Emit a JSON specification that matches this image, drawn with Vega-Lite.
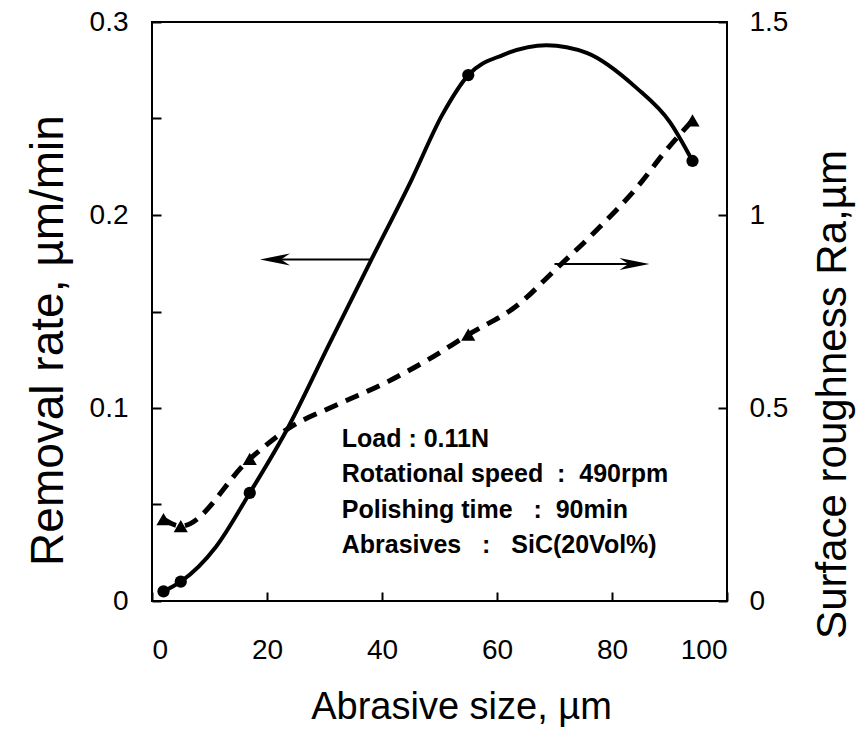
{
  "$schema": "https://vega.github.io/schema/vega-lite/v6.json",
  "width": 575,
  "height": 579,
  "autosize": {"type": "none"},
  "padding": {"left": 152, "top": 22, "right": 129, "bottom": 128},
  "background": "white",
  "config": {
    "view": {"stroke": "black", "strokeWidth": 2},
    "axis": {
      "domain": false,
      "grid": false,
      "ticks": true,
      "tickColor": "black",
      "tickWidth": 2,
      "tickSize": -9,
      "labelColor": "black",
      "labelFont": "Liberation Sans",
      "labelFontSize": 28,
      "titleColor": "black",
      "titleFont": "Liberation Sans",
      "titleFontSize": 38,
      "titleFontWeight": "normal"
    }
  },
  "datasets": {
    "rr_curve": [
      {"size": 2, "rate": 0.005},
      {"size": 5, "rate": 0.010},
      {"size": 11.1, "rate": 0.028},
      {"size": 17, "rate": 0.056},
      {"size": 23.5, "rate": 0.089},
      {"size": 30.8, "rate": 0.133},
      {"size": 38, "rate": 0.176},
      {"size": 45.1, "rate": 0.218},
      {"size": 50.5, "rate": 0.252},
      {"size": 55, "rate": 0.2725},
      {"size": 61.1, "rate": 0.283},
      {"size": 68.6, "rate": 0.288},
      {"size": 75.6, "rate": 0.284},
      {"size": 84.2, "rate": 0.266},
      {"size": 90.1, "rate": 0.248},
      {"size": 94, "rate": 0.228}
    ],
    "rr_points": [
      {"size": 2, "rate": 0.005},
      {"size": 5, "rate": 0.010},
      {"size": 17, "rate": 0.056},
      {"size": 55, "rate": 0.2725},
      {"size": 94, "rate": 0.228}
    ],
    "ra_curve": [
      {"size": 2, "ra": 0.212},
      {"size": 5, "ra": 0.194},
      {"size": 17, "ra": 0.368},
      {"size": 23.6, "ra": 0.446},
      {"size": 32.3, "ra": 0.509},
      {"size": 41.1, "ra": 0.569},
      {"size": 48.1, "ra": 0.626},
      {"size": 55, "ra": 0.69},
      {"size": 63.8, "ra": 0.769},
      {"size": 69.9, "ra": 0.855},
      {"size": 77, "ra": 0.956},
      {"size": 85.1, "ra": 1.085},
      {"size": 88.9, "ra": 1.158},
      {"size": 94, "ra": 1.245}
    ],
    "ra_points": [
      {"size": 2, "ra": 0.212},
      {"size": 5, "ra": 0.194},
      {"size": 17, "ra": 0.368},
      {"size": 55, "ra": 0.69},
      {"size": 94, "ra": 1.245}
    ],
    "notes": [
      {"size": 33, "rate": 0.0798, "label": "Load : 0.11N"},
      {"size": 33, "rate": 0.0617, "label": "Rotational speed\u00a0 :\u00a0 490rpm"},
      {"size": 33, "rate": 0.0430, "label": "Polishing time\u00a0\u00a0 :\u00a0 90min"},
      {"size": 33, "rate": 0.0249, "label": "Abrasives\u00a0\u00a0 :\u00a0\u00a0 SiC(20Vol%)"}
    ]
  },
  "encoding": {
    "x": {
      "field": "size",
      "type": "quantitative",
      "scale": {"domain": [0, 100], "nice": false},
      "axis": {
        "values": [0, 20, 40, 60, 80, 100],
        "title": "Abrasive size, µm",
        "labelPadding": 44,
        "titleX": 309,
        "titleY": 117,
        "titleBaseline": "alphabetic",
        "titleAlign": "center"
      }
    }
  },
  "layer": [
    {
      "encoding": {
        "y": {
          "field": "rate",
          "type": "quantitative",
          "scale": {"domain": [0, 0.3], "nice": false},
          "axis": {
            "orient": "left",
            "values": [0, 0.05, 0.1, 0.15, 0.2, 0.25, 0.3],
            "labelExpr": "(round(datum.value*100) % 10) != 0 ? '' : format(datum.value, '~g')",
            "labelPadding": 33,
            "title": "Removal rate, µm/min",
            "titleFontSize": 46,
            "titleAngle": -90,
            "titleX": -90,
            "titleY": 318,
            "titleAlign": "center",
            "titleBaseline": "alphabetic"
          }
        }
      },
      "layer": [
        {
          "data": {"name": "rr_curve"},
          "mark": {"type": "line", "color": "black", "strokeWidth": 4, "interpolate": "monotone"}
        },
        {
          "data": {"name": "rr_points"},
          "mark": {"type": "point", "shape": "circle", "filled": true, "color": "black", "size": 150, "opacity": 1}
        },
        {
          "data": {"values": [{"size": 38, "size2": 21, "rate": 0.177}]},
          "mark": {"type": "rule", "color": "black", "strokeWidth": 2},
          "encoding": {"x2": {"field": "size2"}}
        },
        {
          "data": {"values": [{"size": 21.4, "rate": 0.177}]},
          "mark": {"type": "point", "shape": "M -1 0 L 1 -0.4 L 0.4 0 L 1 0.4 Z", "filled": true, "color": "black", "size": 900, "opacity": 1, "strokeWidth": 0}
        },
        {
          "data": {"name": "notes"},
          "mark": {"type": "text", "align": "left", "baseline": "alphabetic", "font": "Liberation Sans", "fontSize": 25, "fontWeight": "bold", "color": "black"},
          "encoding": {"text": {"field": "label"}}
        }
      ]
    },
    {
      "encoding": {
        "y": {
          "field": "ra",
          "type": "quantitative",
          "scale": {"domain": [0, 1.5], "nice": false},
          "axis": {
            "orient": "right",
            "values": [0, 0.5, 1, 1.5],
            "labelExpr": "format(datum.value, '~g')",
            "labelPadding": 31,
            "title": "Surface roughness Ra,µm",
            "titleFontSize": 42,
            "titleAngle": -90,
            "titleX": 118,
            "titleY": 372,
            "titleAlign": "center",
            "titleBaseline": "alphabetic"
          }
        }
      },
      "layer": [
        {
          "data": {"name": "ra_curve"},
          "mark": {"type": "line", "color": "black", "strokeWidth": 5, "strokeDash": [14, 9], "interpolate": "monotone"}
        },
        {
          "data": {"name": "ra_points"},
          "mark": {"type": "point", "shape": "triangle-up", "filled": true, "color": "black", "size": 200, "opacity": 1}
        },
        {
          "data": {"values": [{"size": 70, "size2": 84, "ra": 0.873}]},
          "mark": {"type": "rule", "color": "black", "strokeWidth": 2},
          "encoding": {"x2": {"field": "size2"}}
        },
        {
          "data": {"values": [{"size": 83.9, "ra": 0.873}]},
          "mark": {"type": "point", "shape": "M 1 0 L -1 -0.4 L -0.4 0 L -1 0.4 Z", "filled": true, "color": "black", "size": 900, "opacity": 1, "strokeWidth": 0}
        }
      ]
    }
  ],
  "resolve": {"scale": {"y": "independent"}}
}
